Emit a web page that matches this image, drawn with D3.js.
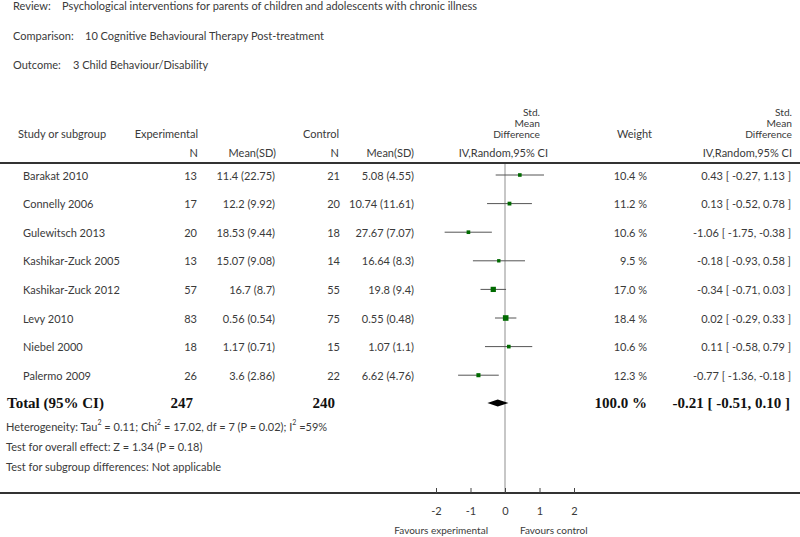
<!DOCTYPE html>
<html><head><meta charset="utf-8">
<script src="https://cdn.jsdelivr.net/npm/d3@7/dist/d3.min.js"></script>
<style>
html,body{margin:0;padding:0;background:#fff;}
svg text{font-family:Lato,"Open Sans",sans-serif;fill:#3a3a3a;}
</style></head>
<body>
<svg id="c" width="800" height="537"></svg>
<script>
const studies = ["Barakat 2010","Connelly 2006","Gulewitsch 2013","Kashikar-Zuck 2005","Kashikar-Zuck 2012","Levy 2010","Niebel 2000","Palermo 2009"];
const expN = [13,17,20,13,57,83,18,26];
const expMean = [11.4,12.2,18.53,15.07,16.7,0.56,1.17,3.6];
const expSD = [22.75,9.92,9.44,9.08,8.7,0.54,0.71,2.86];
const ctrlN = [21,20,18,14,55,75,15,22];
const ctrlMean = [5.08,10.74,27.67,16.64,19.8,0.55,1.07,6.62];
const ctrlSD = [4.55,11.61,7.07,8.3,9.4,0.48,1.1,4.76];
const smd = [0.43,0.13,-1.06,-0.18,-0.34,0.02,0.11,-0.77];
const ciLo = [-0.27,-0.52,-1.75,-0.93,-0.71,-0.29,-0.58,-1.36];
const ciHi = [1.13,0.78,-0.38,0.58,0.03,0.33,0.79,-0.18];
const weight = [10.4,11.2,10.6,9.5,17.0,18.4,10.6,12.3];
const total = {expN:247, ctrlN:240, smd:-0.21, lo:-0.51, hi:0.10, weight:100.0};
const axisTicks = [-2,-1,0,1,2];

const svg = d3.select("#c");
const fs = 11;
const loc = d3.formatLocale({decimal:".",thousands:",",grouping:[3],currency:["",""],minus:"-"});
const f2 = loc.format(".2f"), f1 = loc.format(".1f");
const x = d3.scaleLinear().domain([-2,2]).range([436,574]);
const rowY = d3.scaleLinear().domain([0,1]).range([175,203.6]);
const txt = (s, xx, yy, anchor="start", opts={}) => {
  const t = svg.append("text").attr("x",xx).attr("y",yy).attr("text-anchor",anchor)
    .attr("dominant-baseline","central").style("font-size",(opts.size||fs)+"px").text(s);
  if (opts.bold) t.style("font-weight","bold");
  if (opts.serif) t.style("font-family","'Liberation Serif','DejaVu Serif',serif");
  if (opts.fill) t.style("fill",opts.fill);
  return t;
};

// Title block
txt("Review:",13,5); txt("Psychological interventions for parents of children and adolescents with chronic illness",62,5);
txt("Comparison:",13,35); txt("10 Cognitive Behavioural Therapy Post-treatment",85,35);
txt("Outcome:",13,64); txt("3 Child Behaviour/Disability",73,64);

// Column headers
txt("Study or subgroup",18,133);
txt("Experimental",198,133,"end");
txt("Control",339,133,"end");
txt("N",198,152,"end"); txt("Mean(SD)",276,152,"end");
txt("N",339,152,"end"); txt("Mean(SD)",414,152,"end");
const hs = {size:10.2};
txt("Std.",540,111.5,"end",hs); txt("Mean",540,122.5,"end",hs); txt("Difference",540,133.5,"end",hs);
txt("IV,Random,95% CI",548,152,"end");
txt("Weight",652,133,"end");
txt("Std.",792,111.5,"end",hs); txt("Mean",792,122.5,"end",hs); txt("Difference",792,133.5,"end",hs);
txt("IV,Random,95% CI",792,152,"end");

// header rule
svg.append("line").attr("x1",0).attr("x2",800).attr("y1",163).attr("y2",163)
  .attr("stroke","#333").attr("stroke-width",2);

// zero line
svg.append("line").attr("x1",x(0)).attr("x2",x(0)).attr("y1",164).attr("y2",493)
  .attr("stroke","#b5b5b5").attr("stroke-width",1.5);

// Study rows
studies.forEach((s,i)=>{
  const y = rowY(i);
  txt(s,23,y);
  txt(String(expN[i]),197,y,"end");
  txt(`${expMean[i]} (${expSD[i]})`,275,y,"end");
  txt(String(ctrlN[i]),340,y,"end");
  txt(`${ctrlMean[i]} (${ctrlSD[i]})`,414,y,"end");
  txt(f1(weight[i])+" %",647,y,"end");
  txt(`${f2(smd[i])} [ ${f2(ciLo[i])}, ${f2(ciHi[i])} ]`,791,y,"end");
  svg.append("line").attr("x1",x(ciLo[i])).attr("x2",x(ciHi[i])).attr("y1",y).attr("y2",y)
    .attr("stroke","#555").attr("stroke-width",1);
  const side = 1 + 0.25*weight[i];
  svg.append("rect").attr("x",x(smd[i])-side/2).attr("y",y-side/2).attr("width",side).attr("height",side)
    .attr("fill","#006a00");
});

// Total row
const ty = 403;
const tb = {size:15,bold:true,serif:true,fill:"#111"};
txt("Total (95% CI)",7,ty,"start",tb);
txt(String(total.expN),193,ty,"end",tb);
txt(String(total.ctrlN),335,ty,"end",tb);
txt(f1(total.weight)+" %",647,ty,"end",tb);
txt(`${f2(total.smd)} [ ${f2(total.lo)}, ${f2(total.hi)} ]`,790,ty,"end",tb);
svg.append("path").attr("d",`M${x(total.lo)},${ty} L${x(total.smd)},${ty-3.5} L${x(total.hi)},${ty} L${x(total.smd)},${ty+3.5} Z`)
  .attr("fill","#000");

// Footnotes
const het = svg.append("text").attr("x",6).attr("y",426).attr("dominant-baseline","central").style("font-size",fs+"px");
het.append("tspan").text("Heterogeneity: Tau");
het.append("tspan").attr("baseline-shift","super").style("font-size","7px").text("2");
het.append("tspan").text(" = 0.11; Chi");
het.append("tspan").attr("baseline-shift","super").style("font-size","7px").text("2");
het.append("tspan").text(" = 17.02, df = 7 (P = 0.02); I");
het.append("tspan").attr("baseline-shift","super").style("font-size","7px").text("2");
het.append("tspan").text(" =59%");
txt("Test for overall effect: Z = 1.34 (P = 0.18)",6,446);
txt("Test for subgroup differences: Not applicable",6,466);

// Axis
svg.append("line").attr("x1",0).attr("x2",800).attr("y1",493).attr("y2",493)
  .attr("stroke","#333").attr("stroke-width",2);
const ax = svg.append("g").attr("transform","translate(0,493)")
  .call(d3.axisBottom(x).tickValues(axisTicks).tickSize(-5).tickPadding(14).tickFormat(d=>String(d)));
ax.select(".domain").remove();
ax.selectAll(".tick line").attr("stroke","#444");
ax.selectAll(".tick text").style("font-size",fs+"px").style("font-family","Lato,'Open Sans',sans-serif").attr("fill","#3a3a3a");
txt("Favours experimental",488,530,"end",{size:10});
txt("Favours control",520,530,"start",{size:10});
</script>
</body></html>
